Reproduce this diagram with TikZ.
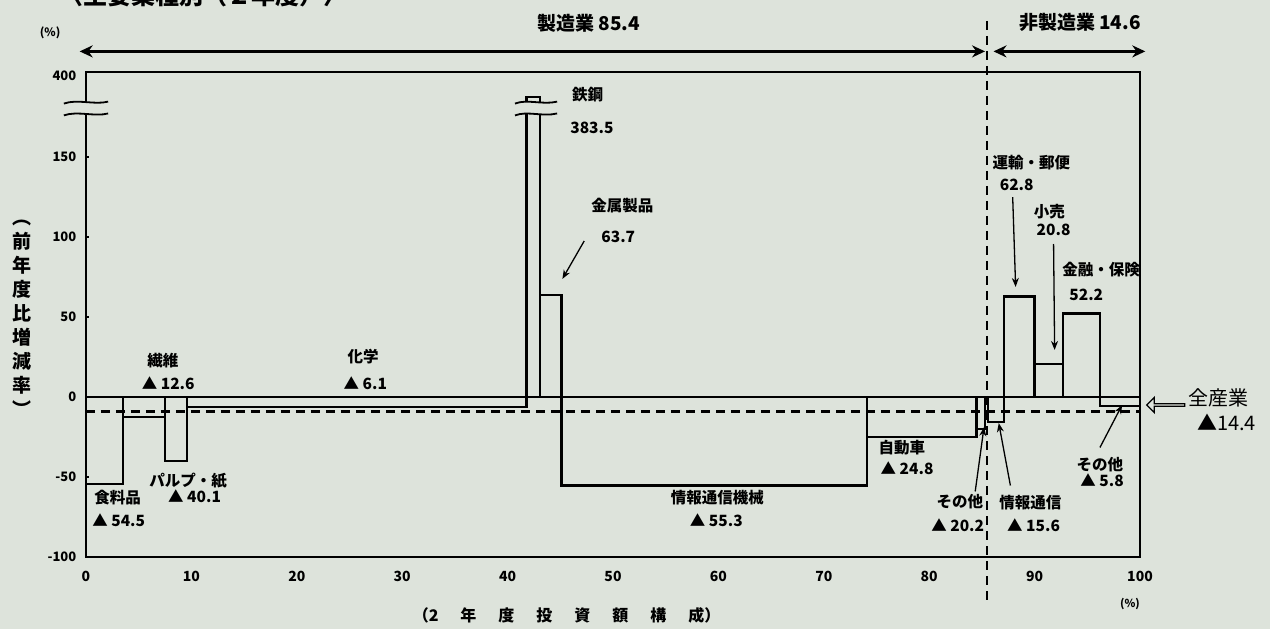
\documentclass[tikz,border=0pt]{standalone}
\usepackage{fontspec}
\setmainfont{Noto Sans CJK JP}
\usetikzlibrary{arrows.meta, positioning, shapes.arrows}
\definecolor{paper}{RGB}{221,227,219}

\tikzset{
  framebox/.style={line width=2.6pt},
  barline/.style={line width=2.3pt},
  breakline/.style={line width=1.8pt},
  alldash/.style={line width=2.2pt, dash pattern=on 9pt off 6pt},
  divdash/.style={line width=1.6pt, dash pattern=on 9pt off 6pt},
  ptr/.style={-{Stealth[length=9pt,width=7pt]}, line width=1.3pt},
  span/.style={{Stealth[length=13pt,width=12pt]}-{Stealth[length=13pt,width=12pt]}, line width=3pt},
  indlbl/.style={font=\bfseries\fontsize{15.5}{16}\selectfont, inner sep=0pt},
  ticklbl/.style={font=\bfseries\fontsize{13}{13}\selectfont, inner sep=0pt},
  xticklbl/.style={font=\bfseries\fontsize{14}{14}\selectfont, inner sep=0pt},
}

\begin{document}
\begin{tikzpicture}[x=10.54pt, y=1.6pt]
  \useasboundingbox[fill=paper] (-8.159,-145) rectangle (112.334,248.125);

  % cut-off heading
  \node[font=\bfseries\fontsize{24}{24}\selectfont, anchor=base west, inner sep=0pt] (heading) at (-2.5,245.5) {〈主要業種別（２年度）〉};

  % manufacturing / non-manufacturing spans
  \node[font=\bfseries\fontsize{19}{19}\selectfont] (mfg) at (47.7,233.8) {製造業 85.4};
  \node[font=\bfseries\fontsize{19}{19}\selectfont] (nonmfg) at (94.3,234.4) {非製造業 14.6};
  \coordinate (mfgL) at (-0.6,216);
  \coordinate (mfgR) at (85.3,216);
  \coordinate (nonL) at (86.1,216);
  \coordinate (nonR) at (100.5,216);
  \draw[span] (mfgL) -- (mfgR);
  \draw[span] (nonL) -- (nonR);
  \coordinate (divtop) at (85.5,235);
  \coordinate (divbot) at (85.5,-127);
  \draw[divdash] (divtop) -- (divbot);

  % frame and axes
  \draw[framebox] (0,-100) rectangle (100,203);
  \fill[paper] (-0.6,177) rectangle (0.6,184);
  \draw[breakline] (-2.1,183.4) .. controls (-0.8,186.4) and (0.8,182.4) .. (2.1,184.6);
  \draw[breakline] (-2.1,176.0) .. controls (-0.8,179.0) and (0.8,175.0) .. (2.1,177.2);
  \foreach \v in {-50,50,100,150}
    \draw[line width=1.2pt] (0,\v) -- (0.3,\v);
  \foreach \v in {-100,-50,0,50,100,150}
    \node[ticklbl, anchor=east] (yl\v) at (-0.9,\v) {\v};
  \node[ticklbl, anchor=east] (yl400) at (-0.9,201) {400};
  \node[font=\bfseries\fontsize{11.5}{12}\selectfont] (ypct) at (-3.4,227.5) {(\%)};
  \foreach \v in {0,10,...,100}
    \node[xticklbl] (xl\v) at (\v,-111.9) {\v};
  \node[font=\bfseries\fontsize{11}{11}\selectfont] (xpct) at (99.05,-129.4) {(\%)};
  \node[font=\bfseries\fontsize{16}{16}\selectfont] (xtitle) at (45.6,-136.3)
    {（2\hspace{22pt}年\hspace{22pt}度\hspace{22pt}投\hspace{22pt}資\hspace{22pt}額\hspace{22pt}構\hspace{22pt}成）};
  \node[font=\bfseries\fontsize{19}{24}\selectfont, align=center, inner sep=0pt] (ytitle) at (-6.1,49.5)
    {︵\\前\\年\\度\\比\\増\\減\\率\\︶};

  % bars
  \foreach \a/\b/\v in {0/3.5/-54.5, 3.5/7.5/-12.6, 7.5/9.6/-40.1, 9.6/41.8/-6.1,
      43.1/45.1/63.7, 45.1/74.1/-55.3, 74.1/84.5/-24.8, 84.5/85.3/-20.2,
      85.6/87.1/-15.6, 87.1/90.0/62.8, 90.0/92.7/20.8, 92.7/96.2/52.2, 96.2/100/-5.8}
    \draw[barline] (\a,0) rectangle (\b,\v);
  % steel, broken bar
  \draw[barline] (41.8,0) -- (41.8,177) (43.1,177) -- (43.1,0);
  \draw[barline] (41.8,184.2) -- (41.8,187.5) -- (43.1,187.5) -- (43.1,184.2);
  \draw[breakline] (40.7,183.4) .. controls (41.9,186.4) and (43.3,182.4) .. (44.7,184.6);
  \draw[breakline] (40.7,176.0) .. controls (41.9,179.0) and (43.3,175.0) .. (44.7,177.2);
  \draw[barline] (0,0) -- (100,0);
  % all industries
  \draw[alldash] (0,-9) -- (100,-9);

  % labels
  \node[indlbl] (steel) at (47.6,188.8) {鉄鋼};
  \node[indlbl] (steelv) at (48.0,168.1) {383.5};
  \node[indlbl] (metal) at (50.9,119.4) {金属製品};
  \node[indlbl] (metalv) at (50.5,100) {63.7};
  \node[indlbl] (textile) at (7.3,22.5) {繊維};
  \node[indlbl] (textilev) at (7.8,8.8) {▲ 12.6};
  \node[indlbl] (chem) at (26.3,25) {化学};
  \node[indlbl] (chemv) at (26.5,8.8) {▲ 6.1};
  \node[indlbl] (food) at (3.0,-63.1) {食料品};
  \node[indlbl] (foodv) at (3.1,-76.9) {▲ 54.5};
  \node[indlbl] (pulp) at (9.7,-52.5) {パルプ・紙};
  \node[indlbl] (pulpv) at (10.3,-62) {▲ 40.1};
  \node[indlbl] (ictmach) at (59.9,-63.1) {情報通信機械};
  \node[indlbl] (ictmachv) at (59.8,-76.9) {▲ 55.3};
  \node[indlbl] (auto) at (77.4,-31.9) {自動車};
  \node[indlbl] (autov) at (77.9,-44.4) {▲ 24.8};
  \node[indlbl] (othm) at (82.9,-65.6) {その他};
  \node[indlbl] (othmv) at (82.7,-80) {▲ 20.2};
  \node[indlbl] (ict) at (89.6,-66.3) {情報通信};
  \node[indlbl] (ictv) at (89.9,-80) {▲ 15.6};
  \node[indlbl] (othn) at (96.2,-42.5) {その他};
  \node[indlbl] (othnv) at (96.4,-51.9) {▲ 5.8};
  \node[indlbl] (transp) at (89.7,146.3) {運輸・郵便};
  \node[indlbl] (transpv) at (88.3,132.5) {62.8};
  \node[indlbl] (retail) at (91.4,115.6) {小売};
  \node[indlbl] (retailv) at (91.8,104.4) {20.8};
  \node[indlbl] (finance) at (96.3,79.4) {金融・保険};
  \node[indlbl] (financev) at (94.9,63.8) {52.2};

  % all-industry marker
  \node[single arrow, draw, line width=1.3pt, shape border rotate=180, minimum height=38pt,
    minimum width=15pt, single arrow head extend=3.5pt, inner sep=0pt] (allarrow) at (102.5,-5) {};
  \node[font=\fontsize{20}{20}\selectfont, inner sep=0pt] (allind) at (107.4,-0.6) {全産業};
  \node[font=\fontsize{20}{20}\selectfont, inner sep=0pt] (allindv) at (108.2,-15.6) {▲14.4};

  % pointers
  \coordinate (metaltip) at (45.2,73.8);
  \coordinate (transptip) at (88.2,68.8);
  \coordinate (retailtip) at (91.9,29.4);
  \coordinate (othntip) at (98.3,-5);
  \coordinate (icttip) at (86.6,-16.3);
  \coordinate (othmtip) at (85.2,-18.8);
  \draw[ptr] ([xshift=-17pt,yshift=-4pt]metalv.west) -- (metaltip);
  \draw[ptr] ([xshift=-4pt,yshift=-6pt]transpv.south) -- (transptip);
  \draw[ptr] ([yshift=-8pt]retailv.south) -- (retailtip);
  \draw[ptr] ([yshift=10pt]othn.north) -- (othntip);
  \draw[ptr] ([xshift=-20pt,yshift=10pt]ict.north) -- (icttip);
  \draw[ptr] ([xshift=-8pt,yshift=3pt]othm.north east) -- (othmtip);
\end{tikzpicture}
\end{document}
